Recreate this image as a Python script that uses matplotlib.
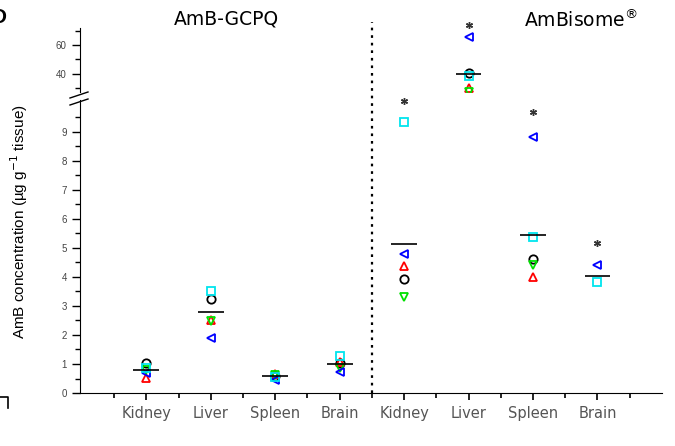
import numpy as np
import matplotlib
matplotlib.use("Agg")
import matplotlib.pyplot as plt
from matplotlib.lines import Line2D

# ----------------------------------------
# AmB tissue concentration, GCPQ vs AmBisome
# ----------------------------------------

TISSUES = ["Kidney", "Liver", "Spleen", "Brain"]
TICK_LABELS = TISSUES + TISSUES
GROUP_TITLES = ["AmB-GCPQ", r"AmBisome$^{\circledR}$"]

nan = np.nan
# one value per animal marker, 8 groups (4 tissues x 2 formulations)
circle_vals = [1.03, 3.24, 0.60, 1.03, 3.93, 40.7, 4.62, nan]
up_vals = [0.52, 2.52, 0.65, 1.07, 4.38, 30.0, 4.00, nan]
down_vals = [0.78, 2.48, 0.62, 0.86, 3.31, 26.8, 4.41, nan]
left_vals = [0.69, 1.90, 0.45, 0.73, 4.80, 65.7, 8.83, 4.41]
square_vals = [0.86, 3.52, 0.55, 1.28, 9.34, 38.0, 5.37, 3.83]
mean_vals = [0.78, 2.79, 0.57, 1.00, 5.14, 40.0, 5.45, 4.03]
star_vals = [nan, nan, nan, nan, 10.07, 74.3, 9.69, 5.17]

SERIES = [
    (circle_vals, "o", "black"),
    (up_vals, "^", "#ff0000"),
    (down_vals, "v", "#00e000"),
    (left_vals, "<", "#0000ff"),
    (square_vals, "s", "#00e5ee"),
]


def draw(ax, x, lo, hi):
    for vals, marker, color in SERIES:
        ax.plot(x, vals, linestyle="none", marker=marker, markersize=6,
                markerfacecolor="none", markeredgecolor=color,
                markeredgewidth=1.3)
    ax.hlines(mean_vals, x - 0.2, x + 0.2, color="black", linewidth=1.2)
    # significance stars, only those belonging to this segment
    stars = np.array(star_vals, dtype=float)
    stars[(stars < lo) | (stars > hi)] = nan
    ax.plot(x, stars, linestyle="none", marker=(6, 2, 0), markersize=5,
            color="#333333", markeredgewidth=1.0, clip_on=False)


def main():
    plt.rcParams["font.family"] = ["Liberation Sans", "DejaVu Sans"]
    fig = plt.figure(figsize=(6.75, 4.46), dpi=100)
    ax_lo = fig.add_axes([0.1185, 0.1188, 0.862, 0.657])
    ax_hi = fig.add_axes([0.1185, 0.7937, 0.862, 0.1435], sharex=ax_lo)
    ax_lo.patch.set_visible(False)
    ax_hi.patch.set_visible(False)

    x = np.arange(1, len(TICK_LABELS) + 1)
    draw(ax_lo, x, 0, 12)
    draw(ax_hi, x, 25, 80)

    ax_lo.set_xlim(-0.03, 9.0)
    ax_lo.set_ylim(0, 10.1)
    ax_hi.set_ylim(27, 72)

    for ax in (ax_lo, ax_hi):
        ax.spines["top"].set_visible(False)
        ax.spines["right"].set_visible(False)
        ax.tick_params(axis="y", which="major", direction="out", length=6,
                       width=1, labelsize=7, labelcolor="#444444")
        ax.tick_params(axis="y", which="minor", direction="out", length=3.5,
                       width=1)
    ax_hi.spines["bottom"].set_visible(False)
    ax_hi.tick_params(axis="x", which="both", bottom=False, labelbottom=False)

    ax_lo.set_yticks(np.arange(0, 10))
    ax_lo.set_yticks(np.arange(0.5, 10, 1), minor=True)
    ax_hi.set_yticks([40, 60])
    ax_hi.set_yticks([30, 50, 70], minor=True)

    ax_lo.set_xticks(x)
    ax_lo.set_xticklabels(TICK_LABELS)
    ax_lo.set_xticks(np.arange(0.5, 9.0, 1), minor=True)
    ax_lo.tick_params(axis="x", which="major", direction="out", length=5,
                      width=1.2, labelsize=10.5, labelcolor="#555555", pad=4)
    ax_lo.tick_params(axis="x", which="minor", direction="out", length=3.5,
                      width=1.2)
    for lab in ax_lo.get_xticklabels():
        lab.set_fontfamily("DejaVu Sans")

    fig.text(19 / 675, 1 - 222 / 446, "AmB concentration (µg g$^{-1}$ tissue)",
             rotation=90, ha="center", va="center", fontsize=11,
             fontfamily=["Liberation Sans Narrow", "Liberation Sans"])

    # dotted divider between the two formulations
    ax_lo.axvline(4.5, ymin=0, ymax=1.266, color="black", linestyle=(0, (1.2, 2.2)),
                  linewidth=1.6, clip_on=False)

    # group titles
    ax_hi.text(2.25, 1.14, GROUP_TITLES[0], transform=ax_hi.get_xaxis_transform(),
               ha="center", va="center", fontsize=13.5, fontfamily="DejaVu Sans")
    ax_hi.text(7.75, 1.12, GROUP_TITLES[1], transform=ax_hi.get_xaxis_transform(),
               ha="center", va="center", fontsize=13.5, fontfamily="DejaVu Sans")

    # axis break marks
    for dy in (0.0, 7.0):
        y0 = (446 - 98 - dy) / 446
        fig.add_artist(Line2D([70 / 675, 88 / 675], [y0, y0 + 6 / 446],
                              color="black", linewidth=1.0))

    # clipped panel letter and bracket remnant
    fig.text(-0.012, 0.96, "D", fontsize=15, fontweight="bold", va="center")
    fig.add_artist(Line2D([0, 8 / 675, 8 / 675], [(446 - 397) / 446, (446 - 397) / 446,
                                                  (446 - 408) / 446],
                          color="black", linewidth=1.2))

    fig.savefig("out.png", dpi=100)


if __name__ == "__main__":
    main()
